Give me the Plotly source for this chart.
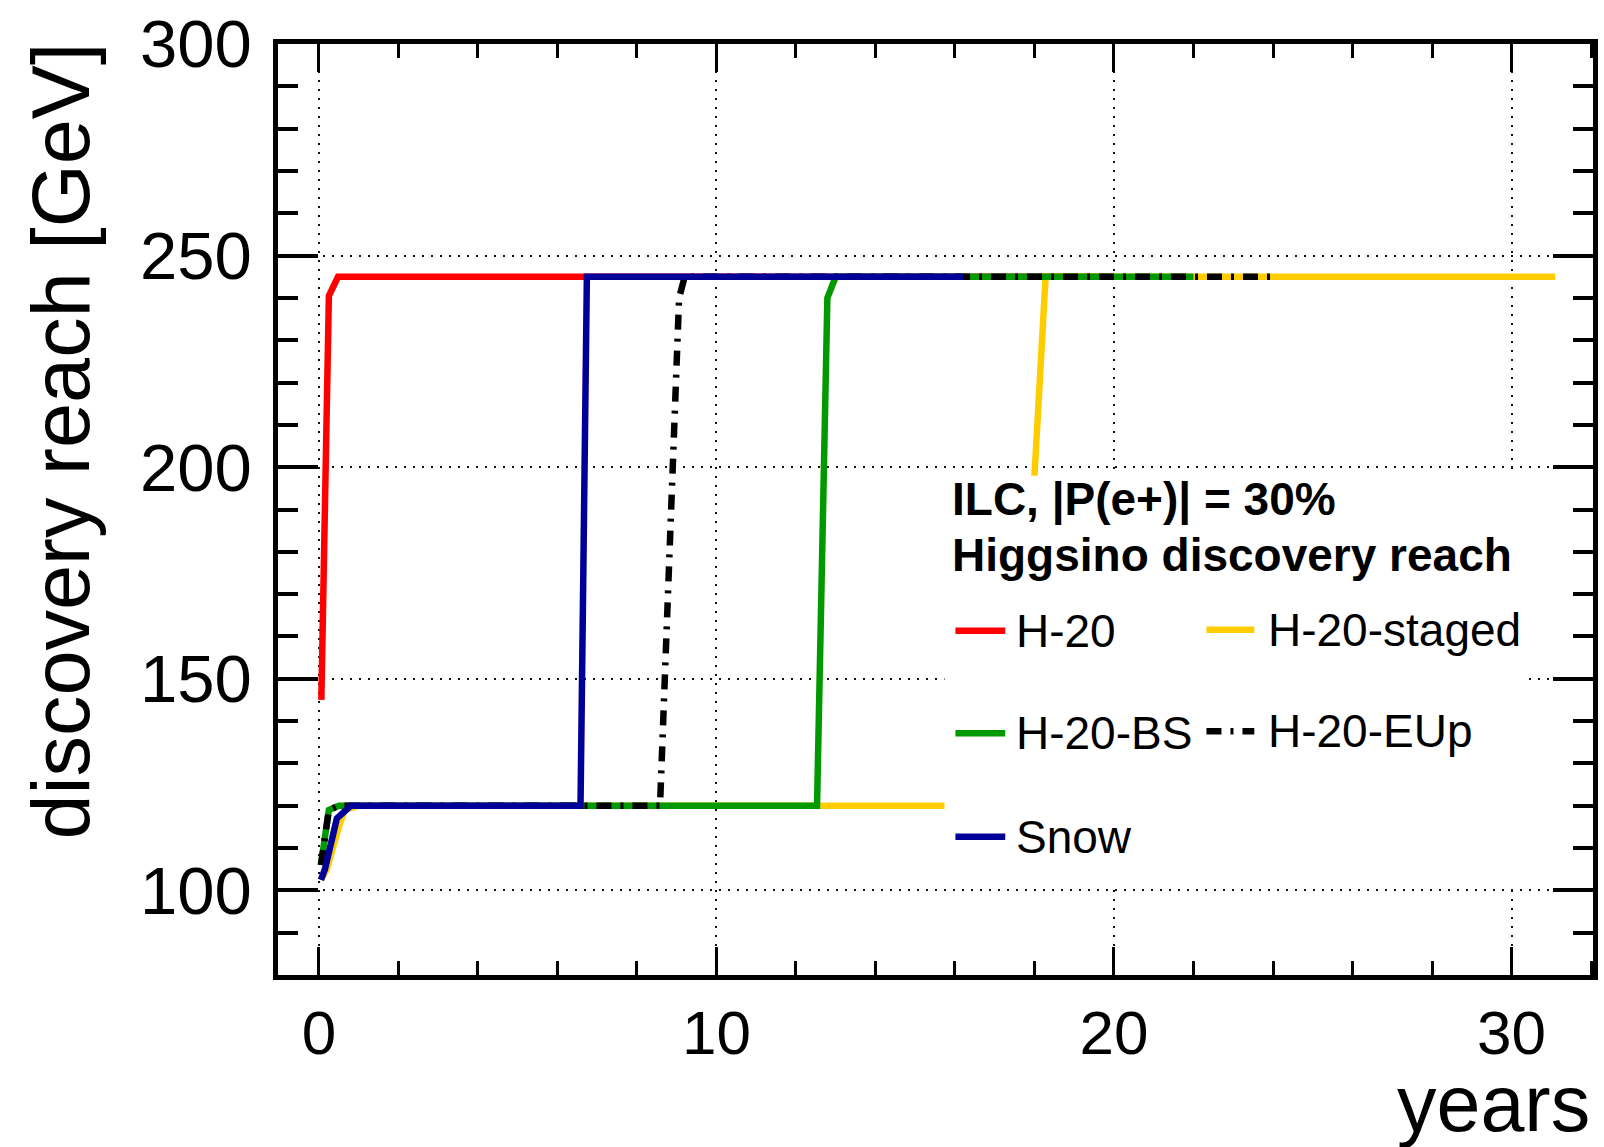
import plotly.graph_objects as go

# ---- data: discovery reach (GeV) versus running time (years) ----
h20_years = [0.06, 0.25, 0.48, 20.0]
h20_reach = [145, 240.5, 245, 245]

staged_years = [0.05, 0.2, 0.5, 0.65, 1.0, 17.55, 18.0, 18.28, 31.1]
staged_reach = [102.5, 105, 115, 119, 120, 120, 198, 245, 245]

bs_years = [0.05, 0.25, 0.5, 12.53, 12.79, 13.0, 22.0]
bs_reach = [106, 119, 120, 120, 240, 245, 245]

eup_years = [0.05, 0.25, 0.5, 8.58, 9.06, 9.2, 24.0]
eup_reach = [106, 119, 120, 120, 240, 245, 245]

snow_years = [0.05, 0.15, 0.45, 0.8, 6.58, 6.74, 16.2]
snow_reach = [102.5, 105, 117, 120, 120, 245, 245]

series_names = ["H-20", "H-20-staged", "H-20-BS", "H-20-EUp", "Snow"]
series_x = [h20_years, staged_years, bs_years, eup_years, snow_years]
series_y = [h20_reach, staged_reach, bs_reach, eup_reach, snow_reach]
series_colors = ["#ff0000", "#ffcc00", "#009900", "#000000", "#000099"]
series_dash = ["solid", "solid", "solid", "15px,9px,3px,9px", "solid"]

x_ticks = [0, 10, 20, 30]
y_ticks = [100, 150, 200, 250, 300]

header_lines = ["ILC, |P(e+)| = 30%", "Higgsino discovery reach"]

FONT = "Liberation Sans, Arial, Helvetica, sans-serif"
W, H = 1604, 1147
L, R, T, B = 278, 1598, 39, 975
LW = 6.5


def px(x):
    return (x - L) / (R - L)


def py(y):
    return (B - y) / (B - T)


fig = go.Figure()
for name, xs, ys, col, dash in zip(series_names, series_x, series_y,
                                   series_colors, series_dash):
    fig.add_trace(go.Scatter(x=xs, y=ys, mode="lines", name=name,
                             line=dict(color=col, width=LW, dash=dash),
                             showlegend=False))

axis_common = dict(
    showline=True, linecolor="black", linewidth=4.5, mirror="ticks",
    ticks="inside", tickcolor="black",
    showgrid=True, gridcolor="#111111", gridwidth=2, griddash="2px,7px",
    zeroline=False,
)

fig.update_xaxes(range=[-1.03, 32.05], tickvals=x_ticks, ticklen=28, tickwidth=3,
                 ticklabelstandoff=0,
                 tickfont=dict(family=FONT, size=62, color="black"),
                 minor=dict(dtick=2, tick0=0, ticklen=14, tickwidth=3,
                            ticks="inside", tickcolor="black", showgrid=False),
                 **axis_common)
fig.update_yaxes(range=[80, 300], tickvals=y_ticks, ticklen=40, tickwidth=4,
                 ticklabelstandoff=8,
                 tickfont=dict(family=FONT, size=67, color="black"),
                 minor=dict(dtick=10, tick0=0, ticklen=20, tickwidth=4,
                            ticks="inside", tickcolor="black", showgrid=False),
                 **axis_common)

shapes = []
annotations = []

# white legend panel
shapes.append(dict(type="rect", xref="paper", yref="paper",
                   x0=px(947), x1=px(1527), y0=py(886), y1=py(473),
                   fillcolor="white", line=dict(width=0), layer="above"))

# legend header
for txt, yc in zip(header_lines, [496, 553]):
    annotations.append(dict(text="<b>%s</b>" % txt, xref="paper", yref="paper",
                            x=px(953), y=py(yc), xanchor="left", yanchor="middle",
                            showarrow=False,
                            font=dict(family=FONT, size=46, color="black")))

# legend entries, two columns
entry_pos = [
    (958, 1008, 1017, 629),
    (1210, 1258, 1270, 628),
    (958, 1008, 1017, 732),
    (1210, 1258, 1270, 730),
    (958, 1008, 1017, 836),
]
for (lx0, lx1, tx, yc), name, col, dash in zip(entry_pos, series_names,
                                               series_colors, series_dash):
    shapes.append(dict(type="line", xref="paper", yref="paper",
                       x0=px(lx0), x1=px(lx1), y0=py(yc), y1=py(yc),
                       line=dict(color=col, width=LW, dash=dash), layer="above"))
    annotations.append(dict(text=name, xref="paper", yref="paper",
                            x=px(tx), y=py(yc), xanchor="left", yanchor="middle",
                            showarrow=False,
                            font=dict(family=FONT, size=46, color="black")))

# axis titles
annotations.append(dict(text="discovery reach [GeV]", xref="paper", yref="paper",
                        x=px(13), y=py(36), xanchor="left", yanchor="top",
                        textangle=-90, showarrow=False,
                        font=dict(family=FONT, size=81, color="black")))
annotations.append(dict(text="years", xref="paper", yref="paper",
                        x=px(1597), y=py(1104), xanchor="right", yanchor="middle",
                        showarrow=False,
                        font=dict(family=FONT, size=79, color="black")))

fig.update_layout(
    width=W, height=H,
    margin=dict(l=L, r=W - R, t=T, b=H - B, pad=0),
    plot_bgcolor="white", paper_bgcolor="white",
    showlegend=False,
    font=dict(family=FONT, color="black"),
    shapes=shapes, annotations=annotations,
)

fig.write_html("out.html")
